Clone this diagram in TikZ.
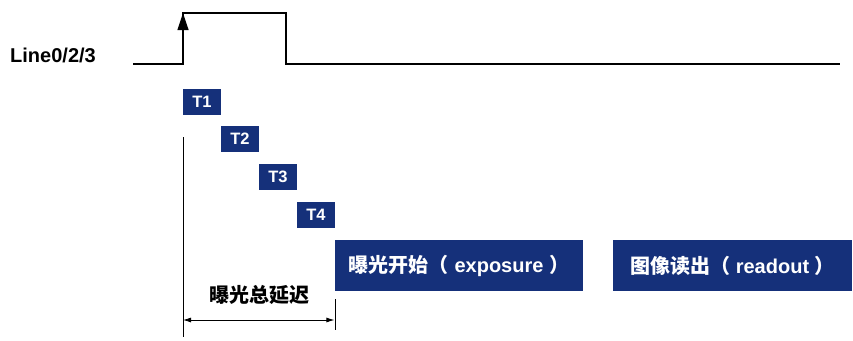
\documentclass[tikz,border=0pt]{standalone}
\usepackage{fontspec}
\setmainfont{Liberation Sans}
\newfontfamily\cjk{Noto Sans CJK SC}
\usetikzlibrary{arrows.meta}
\definecolor{navy}{HTML}{15307A}
\tikzset{sc/.style={x=1pt,y=-1pt,line width=1.2pt},
  tbox/.style={fill=navy,text=white,inner sep=0pt,minimum width=38pt,minimum height=26pt,font=\fontsize{16.5}{17}\selectfont\bfseries},
  phase/.style={fill=navy,text=white,inner sep=0pt,minimum height=51pt,font=\fontsize{20}{21}\selectfont\bfseries}}

\begin{document}
\begin{tikzpicture}[sc]
  \useasboundingbox (0,0) rectangle (853,340);
  % trigger signal
  \node[font=\fontsize{20}{20}\selectfont\bfseries] (line) at (53,55) {Line0/2/3};
  \draw (133,64)--(183,64)--(183,13)--(286,13)--(286,64)--(840,64);
  \draw[-{Triangle[length=17pt,width=11pt]}] (183,64)--(183,13);
  % delays
  \node[tbox] (t1) at (202,102) {T1};
  \node[tbox] (t2) at (240,139) {T2};
  \node[tbox] (t3) at (278,177) {T3};
  \node[tbox] (t4) at (316,215) {T4};
  \node[phase,minimum width=248pt] (exp) at (459,265.5) {{\cjk 曝光开始（} exposure {\cjk ）}};
  \node[phase,minimum width=239pt] (rd) at (732.5,265.5) {{\cjk 图像读出（} readout {\cjk ）}};
  % total delay
  \coordinate (a) at (183,320);
  \coordinate (b) at (exp.west|-a);
  \draw[line width=1pt] (183,137)--(183,337);
  \draw[line width=1pt] (335,299)--(335,330);
  \draw[line width=.8pt,{Latex[length=8pt,width=5pt]}-{Latex[length=8pt,width=5pt]}] (a)--(b);
  \node[font=\fontsize{20}{20}\selectfont\bfseries\cjk] (tot) at (259.5,295) {曝光总延迟};
\end{tikzpicture}
\end{document}
